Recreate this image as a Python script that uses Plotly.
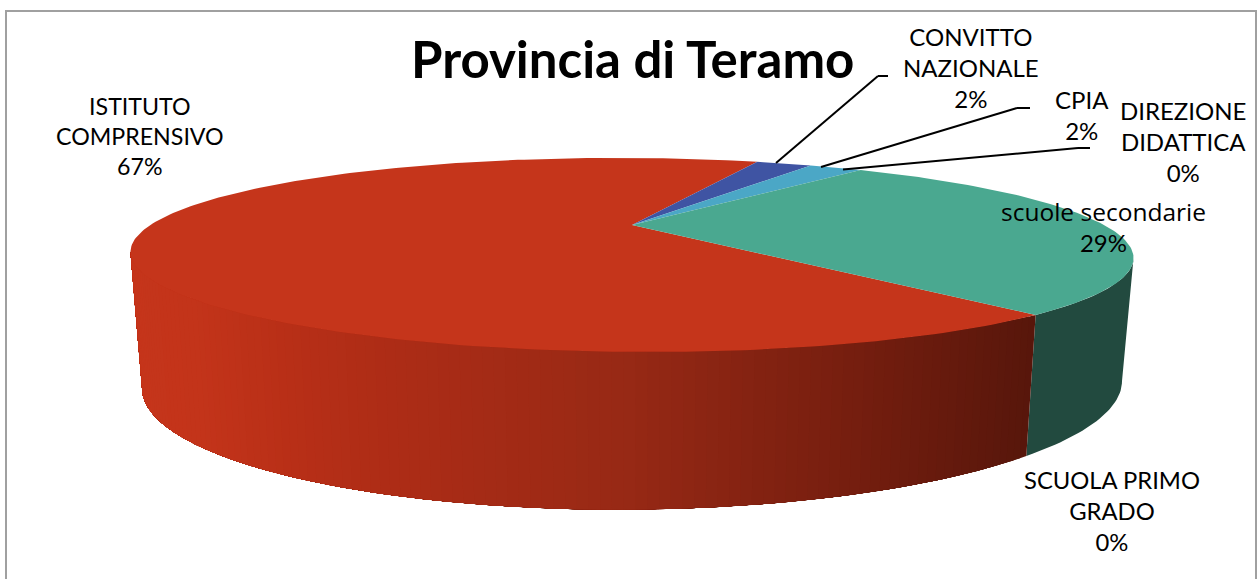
import math
import plotly.graph_objects as go

# ---- data ----
categories = ["ISTITUTO<br>COMPRENSIVO", "CONVITTO<br>NAZIONALE", "CPIA",
              "DIREZIONE<br>DIDATTICA",
              "<span style=\"font-family:'Open Sans';font-size:24.5px\">scuole secondarie</span>",
              "SCUOLA PRIMO<br>GRADO"]
values = [66.7, 2.4, 2.3, 0.0, 28.6, 0.0]
top_colors = ["#C5351B", "#3F54A3", "#4BA7C6", "#7F7F7F", "#4AA890", "#8FB04A"]
title_text = "Provincia di Teramo"

# ---- layout constants ----
W, H = 1258, 579
FONT = "Lato"
START = 49.7          # degrees, clockwise from east, where the first slice begins
C = 0.309             # perspective strength
TOP = dict(x0=632, y0=225, r=477.0, b=87.7, tilt=3.0)
BOT = dict(x0=632, y0=346.0, r=466.0, b=113.0, tilt=-3.5)
FRONT = (18.0, 162.0)  # visible wall range
label_pos = [(140, 136), (971, 67), (1082, 115), (1183, 141), (1103, 226), (1112, 511)]
label_sizes = [23.2, 24, 24, 24, 24, 23.8]
leaders = [[(776, 163), (878, 76), (888, 76)],
           [(821, 167), (1017, 108), (1030, 108)],
           [(843, 169.5), (1078, 148), (1090, 148)]]
red_wall_stops = [(130, (197, 53, 27)), (200, (195, 52, 26)), (290, (184, 47, 23)),
                  (400, (172, 44, 22)), (620, (152, 41, 21)), (850, (118, 30, 15)),
                  (1037, (86, 22, 11))]
green_wall = "#224A3F"


def project(t_deg, p):
    t = math.radians(t_deg)
    X, Y = math.cos(t), math.sin(t)
    w = 1 - C * Y
    x = p["x0"] + p["r"] * X / w
    y = p["y0"] + p["b"] * Y / w + p["tilt"] * (x - p["x0"]) / 502
    return x, y


def wall_color(x):
    s = red_wall_stops
    if x <= s[0][0]:
        return "rgb(%d,%d,%d)" % s[0][1]
    for (a, ca), (b, cb) in zip(s, s[1:]):
        if x <= b:
            f = (x - a) / (b - a)
            return "rgb(%d,%d,%d)" % tuple(round(u + (v - u) * f) for u, v in zip(ca, cb))
    return "rgb(%d,%d,%d)" % s[-1][1]


def poly(xs, ys, color):
    return go.Scatter(x=xs, y=ys, mode="lines", fill="toself", fillcolor=color,
                      line=dict(color=color, width=0), hoverinfo="skip", showlegend=False)


def angles(lo, hi, step=1.0):
    n = max(1, int(math.ceil((hi - lo) / step)))
    return [lo + (hi - lo) * k / n for k in range(n + 1)]


def band(lo, hi, color):
    """Wall polygon following both rims from angle lo to angle hi."""
    ts = angles(lo, hi)
    pts = [project(t, TOP) for t in ts] + [project(t, BOT) for t in reversed(ts)]
    pts.append(pts[0])
    return poly([q[0] for q in pts], [q[1] for q in pts], color)


total = sum(values)
edges = [START]
for v in values:
    edges.append(edges[-1] + v / total * 360)

fig = go.Figure()

# side walls: the green slice wraps round to the start angle, the red one follows it.
# Each red band runs on to the silhouette and is overpainted by the next, so no seams show.
fig.add_trace(band(FRONT[0], START, green_wall))
t = edges[0]
while t < FRONT[1]:
    mid_x = (project(t + 0.5, TOP)[0] + project(t + 0.5, BOT)[0]) / 2
    fig.add_trace(band(t, FRONT[1], wall_color(mid_x)))
    t += 1.0

# top faces
for i, v in enumerate(values):
    if v <= 0:
        continue
    a, b = edges[i], edges[i + 1]
    arc = [project(s, TOP) for s in angles(a, b)]
    apex = (TOP["x0"], TOP["y0"])
    xs = [apex[0]] + [q[0] for q in arc] + [apex[0]]
    ys = [apex[1]] + [q[1] for q in arc] + [apex[1]]
    fig.add_trace(poly(xs, ys, top_colors[i]))

# leader lines
shapes = []
for line in leaders:
    for (x0, y0), (x1, y1) in zip(line, line[1:]):
        shapes.append(dict(type="line", xref="x", yref="y", x0=x0, y0=y0, x1=x1, y1=y1,
                           line=dict(color="#000000", width=2)))
# chart frame
shapes.append(dict(type="rect", xref="x", yref="y", x0=6, y0=11, x1=1256, y1=600,
                   line=dict(color="#A0A0A0", width=2), fillcolor="rgba(0,0,0,0)"))

annotations = []
for name, v, (x, y), size in zip(categories, values, label_pos, label_sizes):
    annotations.append(dict(x=x, y=y, xref="x", yref="y", showarrow=False,
                            text=f"{name}<br>{round(v / total * 100)}%",
                            xanchor="center", yanchor="middle", align="center",
                            font=dict(family=FONT, size=size, color="#000000")))
annotations.append(dict(x=632, y=58, xref="x", yref="y", showarrow=False, text=f"<b>{title_text}</b>",
                        xanchor="center", yanchor="middle",
                        font=dict(family=FONT, size=51, color="#000000")))

fig.update_layout(
    width=W, height=H, margin=dict(l=0, r=0, t=0, b=0, pad=0),
    paper_bgcolor="#FFFFFF", plot_bgcolor="#FFFFFF", showlegend=False,
    xaxis=dict(range=[0, W], visible=False, fixedrange=True),
    yaxis=dict(range=[H, 0], visible=False, fixedrange=True),
    shapes=shapes, annotations=annotations,
)
fig.write_html("out.html", config={"displayModeBar": False},
               post_script="document.body.style.margin='0';document.body.style.overflow='hidden';")
